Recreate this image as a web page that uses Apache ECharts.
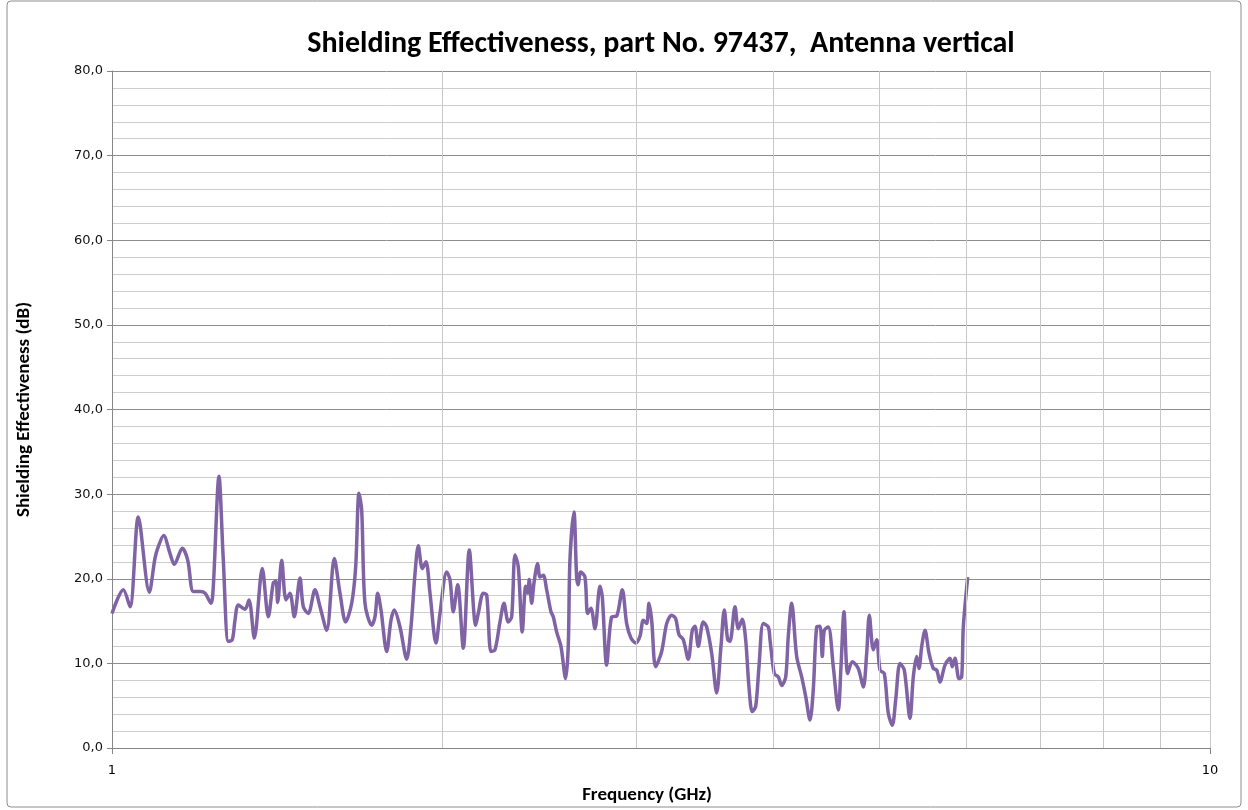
<!DOCTYPE html>
<html>
<head>
<meta charset="utf-8">
<script src="https://cdn.jsdelivr.net/npm/echarts@6/dist/echarts.min.js"></script>
<style>
  html, body { margin: 0; padding: 0; background: #fff; }
  #main { width: 1248px; height: 810px; }
</style>
</head>
<body>
<div id="main"></div>
<script>
// frequency in GHz
const freqs = [
  1.000, 1.024, 1.0385, 1.0567, 1.0814, 1.0943, 1.1019, 1.1144, 1.1293, 1.1396,
  1.1589, 1.1721, 1.1859, 1.2027, 1.2154, 1.2307, 1.2367, 1.2515, 1.2629, 1.2762,
  1.2869, 1.2942, 1.3032, 1.3217, 1.3328, 1.3477, 1.3705, 1.3878, 1.4025, 1.4104,
  1.4154, 1.4273, 1.4403, 1.4524, 1.4656, 1.4832, 1.4935, 1.5092, 1.5306, 1.5468,
  1.5686, 1.5939, 1.6130, 1.6324, 1.6531, 1.6670, 1.6785, 1.6881, 1.6998, 1.7239,
  1.7359, 1.7458, 1.7579, 1.7790, 1.7951, 1.8076, 1.8293, 1.8552, 1.8720, 1.8878,
  1.9009, 1.9169, 1.9318, 1.9481, 1.9727, 1.9893, 2.0175, 2.0315, 2.0456, 2.0646,
  2.0890, 2.1154, 2.1440, 2.1557, 2.1784, 2.1940, 2.2139, 2.2326, 2.2561, 2.2751,
  2.2957, 2.3121, 2.3282, 2.3444, 2.3641, 2.3810, 2.3910, 2.3990, 2.4111, 2.4228,
  2.4416, 2.4534, 2.4705, 2.4881, 2.5107, 2.5228, 2.5408, 2.5638, 2.5892, 2.6033,
  2.6126, 2.6346, 2.6495, 2.6584, 2.6719, 2.6961, 2.7114, 2.7303, 2.7533, 2.7823,
  2.7958, 2.8217, 2.8515, 2.8816, 2.9156, 2.9426, 2.9693, 2.9987, 3.0259, 3.0469,
  3.0687, 3.0835, 3.1010, 3.1271, 3.1667, 3.2001, 3.2338, 3.2611, 3.2837, 3.3134,
  3.3483, 3.3766, 3.3958, 3.4193, 3.4554, 3.4801, 3.5168, 3.5539, 3.5860, 3.6110,
  3.6368, 3.6544, 3.6930, 3.7186, 3.7499, 3.7767, 3.8030, 3.8294, 3.8568, 3.8836,
  3.9188, 3.9601, 3.9743, 4.0103, 4.0441, 4.0730, 4.1073, 4.1297, 4.1593, 4.2031,
  4.2474, 4.2831, 4.3220, 4.3520, 4.3831, 4.4136, 4.4349, 4.4536, 4.4911, 4.5384,
  4.5863, 4.6123, 4.6416, 4.6777, 4.7231, 4.7828, 4.8332, 4.8678, 4.8945, 4.9357,
  4.9710, 5.0056, 5.0510, 5.0935, 5.1364, 5.1731, 5.2200, 5.2672, 5.3306, 5.3676,
  5.4060, 5.4322, 5.4630, 5.5010, 5.5473, 5.5975, 5.6375, 5.6766, 5.7364, 5.7969,
  5.8249, 5.8580, 5.9074, 5.9410, 5.9610, 6.0164
]
// shielding effectiveness in dB
const seValues = [
  15.9, 18.7, 16.7, 27.3, 18.4, 22.4, 23.8, 25.1, 23.0, 21.7,
  23.6, 22.2, 18.5, 18.5, 18.3, 17.1, 19.1, 32.1, 22.2, 12.6,
  12.8, 15.1, 16.9, 16.4, 17.5, 13.0, 21.2, 15.5, 19.5, 19.7,
  17.2, 22.2, 17.5, 18.3, 15.5, 20.1, 16.7, 15.9, 18.7, 16.7,
  13.9, 22.4, 18.3, 14.9, 17.1, 21.4, 30.1, 28.1, 17.1, 14.5,
  15.5, 18.3, 16.3, 11.4, 15.1, 16.3, 14.3, 10.5, 14.3, 20.6,
  23.9, 21.2, 22.0, 18.3, 12.4, 15.9, 20.8, 19.9, 16.1, 19.3,
  11.8, 23.4, 14.5, 15.9, 18.3, 18.1, 11.4, 11.6, 14.9, 17.1,
  14.9, 15.5, 22.8, 21.4, 13.7, 19.1, 18.3, 19.9, 17.1, 19.5,
  21.8, 20.2, 20.4, 18.7, 16.1, 15.5, 13.7, 12.0, 8.2, 12.0,
  22.2, 27.9, 20.2, 19.3, 20.8, 20.2, 15.9, 16.5, 14.1, 19.1,
  17.9, 9.8, 15.5, 15.6, 18.7, 14.7, 13.0, 12.4, 13.2, 15.1,
  14.7, 17.1, 15.1, 9.6, 11.4, 14.7, 15.7, 15.3, 13.4, 12.8,
  10.5, 13.9, 14.4, 12.0, 14.9, 14.3, 11.2, 6.5, 12.0, 16.3,
  12.8, 12.6, 16.7, 14.1, 15.2, 12.8, 7.2, 4.3, 4.9, 9.6,
  14.7, 14.3, 12.8, 8.8, 8.4, 7.4, 8.4, 13.2, 17.1, 10.8,
  8.4, 6.1, 3.3, 6.9, 14.3, 14.4, 10.8, 13.9, 14.3, 9.6,
  4.5, 9.6, 16.1, 8.8, 10.2, 9.4, 7.2, 11.2, 15.7, 11.6,
  12.8, 9.2, 8.8, 4.1, 2.7, 5.7, 10.0, 9.2, 3.5, 8.4,
  10.8, 9.4, 12.0, 13.9, 11.2, 9.4, 9.2, 7.8, 9.8, 10.6,
  9.6, 10.6, 8.2, 8.4, 14.3, 20.2
]
// vertical gridlines between the decades
const gridFreqs = [2, 3, 4, 5, 6, 7, 8, 9]

const chartDom = document.getElementById('main')
const myChart = echarts.init(chartDom)

const labelFont = '"DejaVu Sans", Verdana, sans-serif'
const boldFont = 'Carlito, "Open Sans", "Liberation Sans", sans-serif'

const option = {
  animation: false,
  title: {
    text: 'Shielding Effectiveness, part No. 97437,  Antenna vertical',
    left: 656,
    top: 24,
    textAlign: 'center',
    textStyle: { fontFamily: boldFont, fontWeight: 'bold', fontSize: 30, color: '#000' }
  },
  graphic: [{
    type: 'rect',
    shape: { x: 7, y: 1, width: 1234, height: 806, r: 4 },
    style: { fill: 'none', stroke: '#8c8c8c', lineWidth: 1 },
    silent: true
  }],
  grid: { left: 112, right: 38, top: 71, bottom: 62 },
  xAxis: {
    type: 'log',
    logBase: 10,
    min: 1,
    max: 10,
    name: 'Frequency (GHz)',
    nameLocation: 'middle',
    nameGap: 38,
    nameTextStyle: { fontFamily: boldFont, fontWeight: 'bold', fontSize: 19, color: '#000', padding: [0, 28, 0, 0] },
    axisLine: { lineStyle: { color: '#868686' } },
    axisTick: { show: true, length: 6, lineStyle: { color: '#868686' } },
    axisLabel: { fontFamily: labelFont, fontSize: 13, color: '#000', margin: 16 },
    splitLine: { show: true, lineStyle: { color: '#c8c8c8' } }
  },
  yAxis: {
    type: 'value',
    min: 0,
    max: 80,
    interval: 10,
    name: 'Shielding Effectiveness (dB)',
    nameLocation: 'middle',
    nameGap: 78,
    nameTextStyle: { fontFamily: boldFont, fontWeight: 'bold', fontSize: 19, color: '#000' },
    axisLine: { show: true, lineStyle: { color: '#868686' } },
    axisTick: { show: true, length: 5, lineStyle: { color: '#868686' } },
    axisLabel: {
      fontFamily: labelFont, fontSize: 13, color: '#111', margin: 9,
      formatter: v => v.toFixed(1).replace('.', ',')
    },
    splitLine: { show: true, lineStyle: { color: '#8e8e8e' } },
    minorTick: { show: false, splitNumber: 5 },
    minorSplitLine: { show: true, lineStyle: { color: '#cdcdcd' } }
  },
  series: [
    {
      type: 'line',
      data: freqs.map((f, i) => [f, seValues[i]]),
      smooth: 0.3,
      showSymbol: false,
      lineStyle: { color: '#7f63a5', width: 3.5 },
      itemStyle: { color: '#7f63a5' },
      markLine: {
        silent: true,
        symbol: 'none',
        label: { show: false },
        lineStyle: { color: '#c8c8c8', type: 'solid', width: 1 },
        data: gridFreqs.map(f => ({ xAxis: f }))
      },
      z: 3
    }
  ]
}

option && myChart.setOption(option)
</script>
</body>
</html>
